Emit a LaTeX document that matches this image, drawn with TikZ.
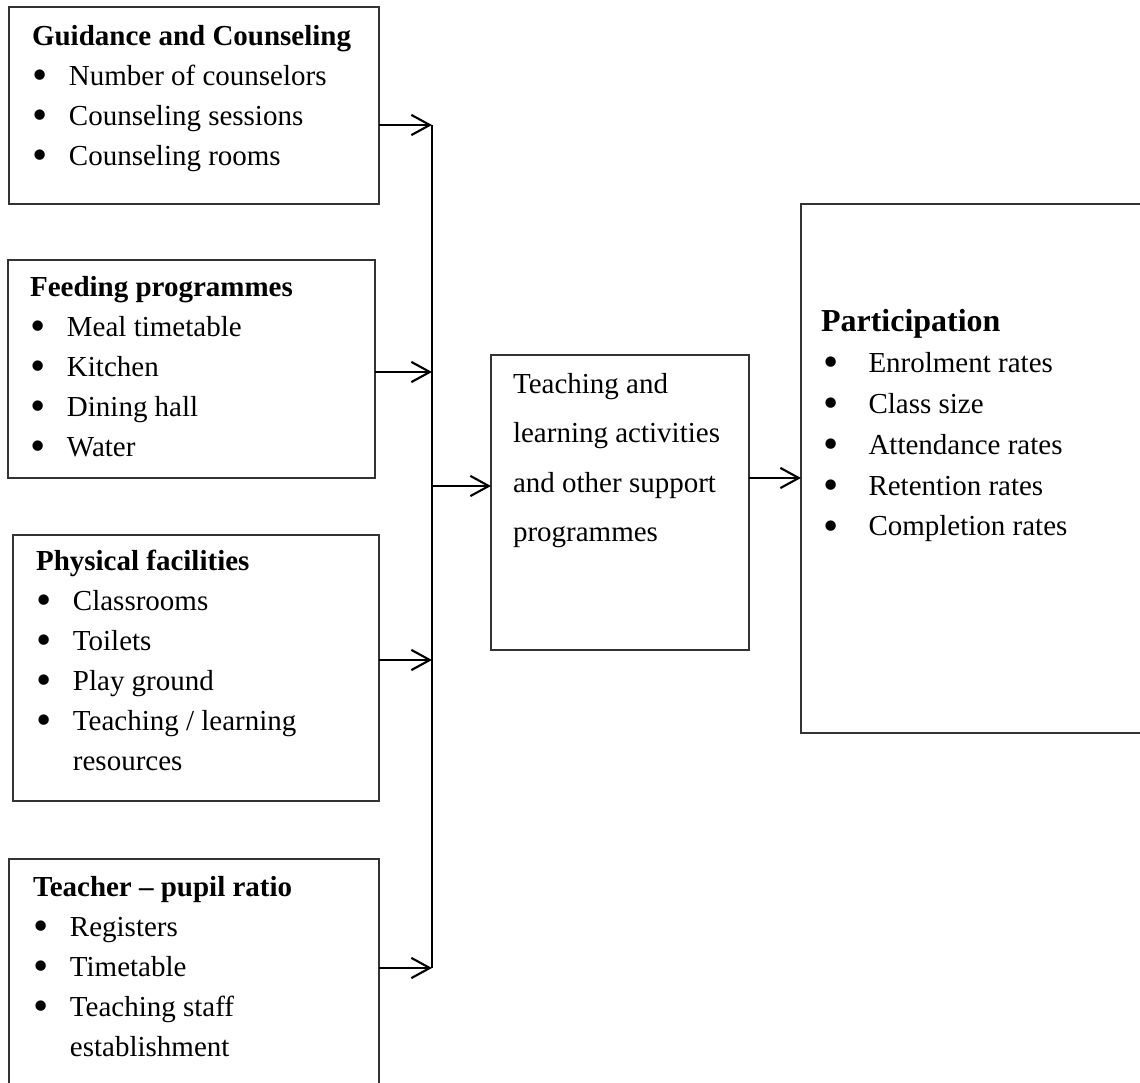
\documentclass[tikz,border=0pt]{standalone}
\usepackage{fontspec}
\setmainfont{Liberation Serif}
\usepackage{tikz}
\usetikzlibrary{arrows.meta,positioning}

\newcommand{\bul}{\raisebox{-0.14em}{\scalebox{1.5}{\textbullet}}}
\newcommand{\itm}{\makebox[21pt][l]{\bul}}
\newcommand{\itmr}{\makebox[27pt][l]{\hspace{1.5pt}\bul}}

\begin{document}
\begin{tikzpicture}[->,>={Straight Barb[length=10.5pt,width=11.5pt]},line width=1.2pt]
\tikzstyle{box}=[draw=black!80,line width=0.85pt,inner sep=0pt,outer sep=0pt]
\tikzstyle{txt}=[anchor=north west,align=left,inner sep=0pt,font=\fontsize{16.5}{22.8}\selectfont]
\useasboundingbox (0,0) rectangle (22.8,-21.66);
\clip (0,0) rectangle (22.8,-21.66);

% left column
\node[box,minimum width=7.4cm,minimum height=3.94cm] (gc) at (3.88,-2.11) {};
\node[box,minimum width=7.34cm,minimum height=4.36cm] (feed) at (3.83,-7.38) {};
\node[box,minimum width=7.32cm,minimum height=5.32cm] (phys) at (3.92,-13.36) {};
\node[box,minimum width=7.4cm,minimum height=5.02cm] (tpr) at (3.88,-19.69) {};

\node[txt] (gct) at ([shift={(0.44,-0.34)}]gc.north west)
  {\textbf{Guidance and Counseling}\\ \itm Number of counselors\\ \itm Counseling sessions\\ \itm Counseling rooms};
\node[txt] (feedt) at ([shift={(0.42,-0.3)}]feed.north west)
  {\textbf{Feeding programmes}\\ \itm Meal timetable\\ \itm Kitchen\\ \itm Dining hall\\ \itm Water};
\node[txt] (physt) at ([shift={(0.44,-0.28)}]phys.north west)
  {\textbf{Physical facilities}\\ \itm Classrooms\\ \itm Toilets\\ \itm Play ground\\ \itm Teaching / learning\\ \hspace*{21pt}resources};
\node[txt] (tprt) at ([shift={(0.46,-0.32)}]tpr.north west)
  {\textbf{Teacher -- pupil ratio}\\ \itm Registers\\ \itm Timetable\\ \itm Teaching staff\\ \hspace*{21pt}establishment};

% middle and right
\node[box,minimum width=5.16cm,minimum height=5.9cm] (tla) at (12.4,-10.05) {};
\node[txt,font=\fontsize{16.5}{28.2}\selectfont] (tlat) at ([shift={(0.42,-0.34)}]tla.north west)
  {Teaching and\\ learning activities\\ and other support\\ programmes};
\node[box,minimum width=7.18cm,minimum height=10.58cm] (part) at (19.61,-9.37) {};
\node[txt,font=\fontsize{16.5}{23.3}\selectfont] (partt) at ([shift={(0.38,-2.08)}]part.north west)
  {{\fontsize{18.2}{23.3}\selectfont\textbf{Participation}}\\ \itmr Enrolment rates\\ \itmr Class size\\ \itmr Attendance rates\\ \itmr Retention rates\\ \itmr Completion rates};

\coordinate (b1) at (8.64,-2.5);
\coordinate (b2) at (8.64,-7.44);
\coordinate (b3) at (8.64,-13.2);
\coordinate (b4) at (8.64,-19.36);
\coordinate (bm) at (8.64,-9.72);
\coordinate (pm) at (15,-9.56);

\path (gc.east |- b1) edge (b1)
      (feed.east |- b2) edge (b2)
      (phys.east |- b3) edge (b3)
      (tpr.east |- b4) edge (b4)
      (bm) edge (tla.west |- bm)
      (tla.east |- pm) edge (part.west |- pm);
\draw[-] (b1) -- (b4);
\end{tikzpicture}
\end{document}
